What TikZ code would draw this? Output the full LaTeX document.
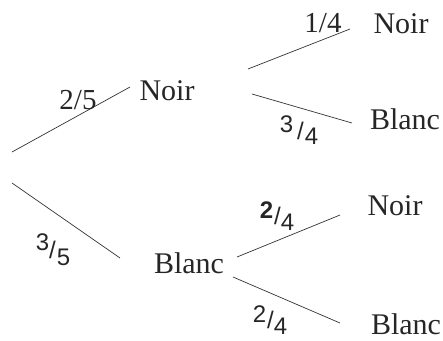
\documentclass[tikz,border=0pt]{standalone}
\usepackage{fontspec}
\setmainfont{Liberation Serif}
\newfontfamily\handfont{Liberation Sans}
\begin{document}
\begin{tikzpicture}[x=1pt,y=-1pt,
  lbl/.style={font=\fontsize{30}{32}\selectfont, inner sep=0pt, text=black!85},
  tfrac/.style={font=\fontsize{29}{30}\selectfont, inner sep=0pt, text=black!85},
  hfrac/.style={font=\handfont\fontsize{24}{26}\selectfont, inner sep=0pt, text=black!85},
  br/.style={line width=0.7pt, draw=black!80}]
\useasboundingbox (0,0) rectangle (443,340);
% nodes
\node[lbl] (n1) at (167,91) {Noir};
\node[lbl] (b1) at (189,263) {Blanc};
\node[lbl] (nn) at (401,24) {Noir};
\node[lbl] (nb) at (405,119) {Blanc};
\node[lbl] (bn) at (395,206) {Noir};
\node[lbl] (bb) at (406,324) {Blanc};
% branch end points
\coordinate (r1) at (12,152);
\coordinate (r2) at (12,183);
\coordinate (n1in) at (130,87);
\coordinate (b1in) at (120,258);
\coordinate (n1o1) at (248,69);
\coordinate (n1o2) at (252,94);
\coordinate (nnin) at (350,29);
\coordinate (nbin) at (352,123);
\coordinate (b1o1) at (237,257);
\coordinate (b1o2) at (233,277);
\coordinate (bnin) at (340,215);
\coordinate (bbin) at (340,323);
% branches
\draw[br] (r1) -- (n1in);
\draw[br] (r2) -- (b1in);
\draw[br] (n1o1) -- (nnin);
\draw[br] (n1o2) -- (nbin);
\draw[br] (b1o1) -- (bnin);
\draw[br] (b1o2) -- (bbin);
% probabilities
\node[tfrac] (p1) at (78,100) {2/5};
\node[tfrac] (p2) at (323,23) {1/4};
\node[hfrac] (p3) at (299,130) {\raisebox{7pt}{3}\kern4pt/\kern1pt\raisebox{-5pt}{4}};
\node[hfrac] (p4) at (53,250) {\raisebox{8pt}{3}\kern0pt/\kern1pt\raisebox{-7pt}{5}};
\node[hfrac] (p5) at (277,216) {\raisebox{6pt}{\textbf{2}}\kern1pt/\kern0pt\raisebox{-6pt}{4}};
\node[hfrac] (p6) at (270,320) {\raisebox{6pt}{2}\kern1pt/\kern0pt\raisebox{-6pt}{4}};
\end{tikzpicture}
\end{document}
